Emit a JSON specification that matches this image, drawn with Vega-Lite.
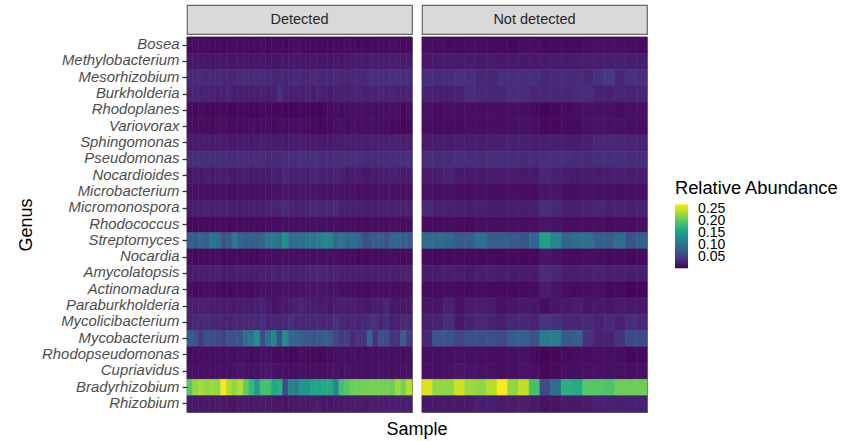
{"$schema":"https://vega.github.io/schema/vega-lite/v6.json","padding":{"left":16,"top":4,"right":0,"bottom":0},"config":{"font":"Liberation Sans"},
"datasets":{"cells":[
{"g":"Bosea","s":1,"v":0.008},{"g":"Bosea","s":2,"v":0.009},{"g":"Bosea","s":3,"v":0.008},{"g":"Bosea","s":4,"v":0.009},{"g":"Bosea","s":5,"v":0.007},{"g":"Bosea","s":6,"v":0.007},{"g":"Bosea","s":7,"v":0.007},{"g":"Bosea","s":8,"v":0.008},{"g":"Bosea","s":9,"v":0.009},{"g":"Bosea","s":10,"v":0.008},{"g":"Bosea","s":11,"v":0.008},{"g":"Bosea","s":12,"v":0.007},{"g":"Bosea","s":13,"v":0.008},{"g":"Bosea","s":14,"v":0.009},{"g":"Bosea","s":15,"v":0.007},{"g":"Bosea","s":16,"v":0.008},{"g":"Bosea","s":17,"v":0.007},{"g":"Bosea","s":18,"v":0.007},{"g":"Bosea","s":19,"v":0.008},{"g":"Bosea","s":20,"v":0.009},{"g":"Bosea","s":21,"v":0.008},{"g":"Bosea","s":22,"v":0.007},{"g":"Bosea","s":23,"v":0.007},{"g":"Bosea","s":24,"v":0.006},{"g":"Bosea","s":25,"v":0.007},{"g":"Bosea","s":26,"v":0.007},{"g":"Bosea","s":27,"v":0.008},{"g":"Bosea","s":28,"v":0.008},{"g":"Bosea","s":29,"v":0.009},{"g":"Bosea","s":30,"v":0.008},{"g":"Bosea","s":31,"v":0.007},{"g":"Bosea","s":32,"v":0.008},{"g":"Bosea","s":33,"v":0.007},{"g":"Bosea","s":34,"v":0.007},{"g":"Bosea","s":35,"v":0.008},{"g":"Bosea","s":36,"v":0.008},{"g":"Bosea","s":37,"v":0.009},{"g":"Bosea","s":38,"v":0.008},{"g":"Bosea","s":39,"v":0.008},{"g":"Bosea","s":40,"v":0.008},{"g":"Bosea","s":41,"v":0.01},{"g":"Bosea","s":42,"v":0.009},{"g":"Bosea","s":43,"v":0.008},{"g":"Bosea","s":44,"v":0.007},{"g":"Bosea","s":45,"v":0.009},{"g":"Bosea","s":46,"v":0.008},{"g":"Bosea","s":47,"v":0.008},{"g":"Bosea","s":48,"v":0.008},{"g":"Bosea","s":49,"v":0.007},{"g":"Bosea","s":50,"v":0.009},{"g":"Bosea","s":51,"v":0.009},{"g":"Bosea","s":52,"v":0.007},{"g":"Bosea","s":53,"v":0.007},{"g":"Bosea","s":54,"v":0.007},{"g":"Bosea","s":55,"v":0.007},{"g":"Bosea","s":56,"v":0.009},{"g":"Bosea","s":57,"v":0.01},{"g":"Bosea","s":58,"v":0.01},{"g":"Bosea","s":59,"v":0.01},{"g":"Bosea","s":60,"v":0.009},{"g":"Bosea","s":61,"v":0.008},
{"g":"Methylobacterium","s":1,"v":0.016},{"g":"Methylobacterium","s":2,"v":0.018},{"g":"Methylobacterium","s":3,"v":0.016},{"g":"Methylobacterium","s":4,"v":0.017},{"g":"Methylobacterium","s":5,"v":0.015},{"g":"Methylobacterium","s":6,"v":0.016},{"g":"Methylobacterium","s":7,"v":0.016},{"g":"Methylobacterium","s":8,"v":0.016},{"g":"Methylobacterium","s":9,"v":0.015},{"g":"Methylobacterium","s":10,"v":0.016},{"g":"Methylobacterium","s":11,"v":0.015},{"g":"Methylobacterium","s":12,"v":0.015},{"g":"Methylobacterium","s":13,"v":0.016},{"g":"Methylobacterium","s":14,"v":0.017},{"g":"Methylobacterium","s":15,"v":0.016},{"g":"Methylobacterium","s":16,"v":0.015},{"g":"Methylobacterium","s":17,"v":0.016},{"g":"Methylobacterium","s":18,"v":0.016},{"g":"Methylobacterium","s":19,"v":0.017},{"g":"Methylobacterium","s":20,"v":0.018},{"g":"Methylobacterium","s":21,"v":0.017},{"g":"Methylobacterium","s":22,"v":0.016},{"g":"Methylobacterium","s":23,"v":0.016},{"g":"Methylobacterium","s":24,"v":0.015},{"g":"Methylobacterium","s":25,"v":0.016},{"g":"Methylobacterium","s":26,"v":0.016},{"g":"Methylobacterium","s":27,"v":0.017},{"g":"Methylobacterium","s":28,"v":0.016},{"g":"Methylobacterium","s":29,"v":0.018},{"g":"Methylobacterium","s":30,"v":0.019},{"g":"Methylobacterium","s":31,"v":0.02},{"g":"Methylobacterium","s":32,"v":0.02},{"g":"Methylobacterium","s":33,"v":0.021},{"g":"Methylobacterium","s":34,"v":0.02},{"g":"Methylobacterium","s":35,"v":0.021},{"g":"Methylobacterium","s":36,"v":0.02},{"g":"Methylobacterium","s":37,"v":0.021},{"g":"Methylobacterium","s":38,"v":0.02},{"g":"Methylobacterium","s":39,"v":0.02},{"g":"Methylobacterium","s":40,"v":0.02},{"g":"Methylobacterium","s":41,"v":0.018},{"g":"Methylobacterium","s":42,"v":0.019},{"g":"Methylobacterium","s":43,"v":0.02},{"g":"Methylobacterium","s":44,"v":0.019},{"g":"Methylobacterium","s":45,"v":0.02},{"g":"Methylobacterium","s":46,"v":0.018},{"g":"Methylobacterium","s":47,"v":0.02},{"g":"Methylobacterium","s":48,"v":0.018},{"g":"Methylobacterium","s":49,"v":0.019},{"g":"Methylobacterium","s":50,"v":0.018},{"g":"Methylobacterium","s":51,"v":0.018},{"g":"Methylobacterium","s":52,"v":0.02},{"g":"Methylobacterium","s":53,"v":0.019},{"g":"Methylobacterium","s":54,"v":0.02},{"g":"Methylobacterium","s":55,"v":0.02},{"g":"Methylobacterium","s":56,"v":0.021},{"g":"Methylobacterium","s":57,"v":0.022},{"g":"Methylobacterium","s":58,"v":0.023},{"g":"Methylobacterium","s":59,"v":0.024},{"g":"Methylobacterium","s":60,"v":0.022},{"g":"Methylobacterium","s":61,"v":0.022},
{"g":"Mesorhizobium","s":1,"v":0.031},{"g":"Mesorhizobium","s":2,"v":0.033},{"g":"Mesorhizobium","s":3,"v":0.032},{"g":"Mesorhizobium","s":4,"v":0.03},{"g":"Mesorhizobium","s":5,"v":0.032},{"g":"Mesorhizobium","s":6,"v":0.031},{"g":"Mesorhizobium","s":7,"v":0.03},{"g":"Mesorhizobium","s":8,"v":0.029},{"g":"Mesorhizobium","s":9,"v":0.03},{"g":"Mesorhizobium","s":10,"v":0.033},{"g":"Mesorhizobium","s":11,"v":0.031},{"g":"Mesorhizobium","s":12,"v":0.034},{"g":"Mesorhizobium","s":13,"v":0.033},{"g":"Mesorhizobium","s":14,"v":0.034},{"g":"Mesorhizobium","s":15,"v":0.03},{"g":"Mesorhizobium","s":16,"v":0.028},{"g":"Mesorhizobium","s":17,"v":0.03},{"g":"Mesorhizobium","s":18,"v":0.029},{"g":"Mesorhizobium","s":19,"v":0.028},{"g":"Mesorhizobium","s":20,"v":0.031},{"g":"Mesorhizobium","s":21,"v":0.029},{"g":"Mesorhizobium","s":22,"v":0.03},{"g":"Mesorhizobium","s":23,"v":0.032},{"g":"Mesorhizobium","s":24,"v":0.031},{"g":"Mesorhizobium","s":25,"v":0.03},{"g":"Mesorhizobium","s":26,"v":0.028},{"g":"Mesorhizobium","s":27,"v":0.031},{"g":"Mesorhizobium","s":28,"v":0.029},{"g":"Mesorhizobium","s":29,"v":0.028},{"g":"Mesorhizobium","s":30,"v":0.03},{"g":"Mesorhizobium","s":31,"v":0.03},{"g":"Mesorhizobium","s":32,"v":0.03},{"g":"Mesorhizobium","s":33,"v":0.036},{"g":"Mesorhizobium","s":34,"v":0.036},{"g":"Mesorhizobium","s":35,"v":0.035},{"g":"Mesorhizobium","s":36,"v":0.036},{"g":"Mesorhizobium","s":37,"v":0.038},{"g":"Mesorhizobium","s":38,"v":0.037},{"g":"Mesorhizobium","s":39,"v":0.036},{"g":"Mesorhizobium","s":40,"v":0.036},{"g":"Mesorhizobium","s":41,"v":0.036},{"g":"Mesorhizobium","s":42,"v":0.034},{"g":"Mesorhizobium","s":43,"v":0.036},{"g":"Mesorhizobium","s":44,"v":0.038},{"g":"Mesorhizobium","s":45,"v":0.038},{"g":"Mesorhizobium","s":46,"v":0.03},{"g":"Mesorhizobium","s":47,"v":0.028},{"g":"Mesorhizobium","s":48,"v":0.036},{"g":"Mesorhizobium","s":49,"v":0.036},{"g":"Mesorhizobium","s":50,"v":0.035},{"g":"Mesorhizobium","s":51,"v":0.036},{"g":"Mesorhizobium","s":52,"v":0.03},{"g":"Mesorhizobium","s":53,"v":0.033},{"g":"Mesorhizobium","s":54,"v":0.033},{"g":"Mesorhizobium","s":55,"v":0.032},{"g":"Mesorhizobium","s":56,"v":0.03},{"g":"Mesorhizobium","s":57,"v":0.04},{"g":"Mesorhizobium","s":58,"v":0.046},{"g":"Mesorhizobium","s":59,"v":0.03},{"g":"Mesorhizobium","s":60,"v":0.04},{"g":"Mesorhizobium","s":61,"v":0.036},
{"g":"Burkholderia","s":1,"v":0.026},{"g":"Burkholderia","s":2,"v":0.028},{"g":"Burkholderia","s":3,"v":0.024},{"g":"Burkholderia","s":4,"v":0.027},{"g":"Burkholderia","s":5,"v":0.026},{"g":"Burkholderia","s":6,"v":0.022},{"g":"Burkholderia","s":7,"v":0.025},{"g":"Burkholderia","s":8,"v":0.03},{"g":"Burkholderia","s":9,"v":0.021},{"g":"Burkholderia","s":10,"v":0.023},{"g":"Burkholderia","s":11,"v":0.021},{"g":"Burkholderia","s":12,"v":0.024},{"g":"Burkholderia","s":13,"v":0.022},{"g":"Burkholderia","s":14,"v":0.025},{"g":"Burkholderia","s":15,"v":0.022},{"g":"Burkholderia","s":16,"v":0.022},{"g":"Burkholderia","s":17,"v":0.036},{"g":"Burkholderia","s":18,"v":0.025},{"g":"Burkholderia","s":19,"v":0.024},{"g":"Burkholderia","s":20,"v":0.025},{"g":"Burkholderia","s":21,"v":0.023},{"g":"Burkholderia","s":22,"v":0.027},{"g":"Burkholderia","s":23,"v":0.022},{"g":"Burkholderia","s":24,"v":0.028},{"g":"Burkholderia","s":25,"v":0.024},{"g":"Burkholderia","s":26,"v":0.02},{"g":"Burkholderia","s":27,"v":0.025},{"g":"Burkholderia","s":28,"v":0.025},{"g":"Burkholderia","s":29,"v":0.024},{"g":"Burkholderia","s":30,"v":0.025},{"g":"Burkholderia","s":31,"v":0.026},{"g":"Burkholderia","s":32,"v":0.024},{"g":"Burkholderia","s":33,"v":0.025},{"g":"Burkholderia","s":34,"v":0.026},{"g":"Burkholderia","s":35,"v":0.028},{"g":"Burkholderia","s":36,"v":0.025},{"g":"Burkholderia","s":37,"v":0.028},{"g":"Burkholderia","s":38,"v":0.024},{"g":"Burkholderia","s":39,"v":0.026},{"g":"Burkholderia","s":40,"v":0.027},{"g":"Burkholderia","s":41,"v":0.026},{"g":"Burkholderia","s":42,"v":0.024},{"g":"Burkholderia","s":43,"v":0.022},{"g":"Burkholderia","s":44,"v":0.025},{"g":"Burkholderia","s":45,"v":0.035},{"g":"Burkholderia","s":46,"v":0.03},{"g":"Burkholderia","s":47,"v":0.028},{"g":"Burkholderia","s":48,"v":0.03},{"g":"Burkholderia","s":49,"v":0.035},{"g":"Burkholderia","s":50,"v":0.034},{"g":"Burkholderia","s":51,"v":0.028},{"g":"Burkholderia","s":52,"v":0.03},{"g":"Burkholderia","s":53,"v":0.03},{"g":"Burkholderia","s":54,"v":0.03},{"g":"Burkholderia","s":55,"v":0.034},{"g":"Burkholderia","s":56,"v":0.034},{"g":"Burkholderia","s":57,"v":0.025},{"g":"Burkholderia","s":58,"v":0.024},{"g":"Burkholderia","s":59,"v":0.027},{"g":"Burkholderia","s":60,"v":0.026},{"g":"Burkholderia","s":61,"v":0.028},
{"g":"Rhodoplanes","s":1,"v":0.008},{"g":"Rhodoplanes","s":2,"v":0.007},{"g":"Rhodoplanes","s":3,"v":0.008},{"g":"Rhodoplanes","s":4,"v":0.006},{"g":"Rhodoplanes","s":5,"v":0.006},{"g":"Rhodoplanes","s":6,"v":0.007},{"g":"Rhodoplanes","s":7,"v":0.007},{"g":"Rhodoplanes","s":8,"v":0.006},{"g":"Rhodoplanes","s":9,"v":0.006},{"g":"Rhodoplanes","s":10,"v":0.007},{"g":"Rhodoplanes","s":11,"v":0.006},{"g":"Rhodoplanes","s":12,"v":0.005},{"g":"Rhodoplanes","s":13,"v":0.006},{"g":"Rhodoplanes","s":14,"v":0.007},{"g":"Rhodoplanes","s":15,"v":0.007},{"g":"Rhodoplanes","s":16,"v":0.006},{"g":"Rhodoplanes","s":17,"v":0.006},{"g":"Rhodoplanes","s":18,"v":0.005},{"g":"Rhodoplanes","s":19,"v":0.004},{"g":"Rhodoplanes","s":20,"v":0.005},{"g":"Rhodoplanes","s":21,"v":0.006},{"g":"Rhodoplanes","s":22,"v":0.006},{"g":"Rhodoplanes","s":23,"v":0.005},{"g":"Rhodoplanes","s":24,"v":0.004},{"g":"Rhodoplanes","s":25,"v":0.006},{"g":"Rhodoplanes","s":26,"v":0.008},{"g":"Rhodoplanes","s":27,"v":0.009},{"g":"Rhodoplanes","s":28,"v":0.008},{"g":"Rhodoplanes","s":29,"v":0.01},{"g":"Rhodoplanes","s":30,"v":0.009},{"g":"Rhodoplanes","s":31,"v":0.01},{"g":"Rhodoplanes","s":32,"v":0.011},{"g":"Rhodoplanes","s":33,"v":0.01},{"g":"Rhodoplanes","s":34,"v":0.009},{"g":"Rhodoplanes","s":35,"v":0.012},{"g":"Rhodoplanes","s":36,"v":0.011},{"g":"Rhodoplanes","s":37,"v":0.01},{"g":"Rhodoplanes","s":38,"v":0.01},{"g":"Rhodoplanes","s":39,"v":0.006},{"g":"Rhodoplanes","s":40,"v":0.011},{"g":"Rhodoplanes","s":41,"v":0.012},{"g":"Rhodoplanes","s":42,"v":0.008},{"g":"Rhodoplanes","s":43,"v":0.01},{"g":"Rhodoplanes","s":44,"v":0.011},{"g":"Rhodoplanes","s":45,"v":0.01},{"g":"Rhodoplanes","s":46,"v":0.009},{"g":"Rhodoplanes","s":47,"v":0.01},{"g":"Rhodoplanes","s":48,"v":0.011},{"g":"Rhodoplanes","s":49,"v":0.01},{"g":"Rhodoplanes","s":50,"v":0.01},{"g":"Rhodoplanes","s":51,"v":0.008},{"g":"Rhodoplanes","s":52,"v":0.004},{"g":"Rhodoplanes","s":53,"v":0.006},{"g":"Rhodoplanes","s":54,"v":0.008},{"g":"Rhodoplanes","s":55,"v":0.009},{"g":"Rhodoplanes","s":56,"v":0.012},{"g":"Rhodoplanes","s":57,"v":0.012},{"g":"Rhodoplanes","s":58,"v":0.012},{"g":"Rhodoplanes","s":59,"v":0.008},{"g":"Rhodoplanes","s":60,"v":0.011},{"g":"Rhodoplanes","s":61,"v":0.012},
{"g":"Variovorax","s":1,"v":0.01},{"g":"Variovorax","s":2,"v":0.009},{"g":"Variovorax","s":3,"v":0.011},{"g":"Variovorax","s":4,"v":0.009},{"g":"Variovorax","s":5,"v":0.007},{"g":"Variovorax","s":6,"v":0.009},{"g":"Variovorax","s":7,"v":0.01},{"g":"Variovorax","s":8,"v":0.007},{"g":"Variovorax","s":9,"v":0.008},{"g":"Variovorax","s":10,"v":0.008},{"g":"Variovorax","s":11,"v":0.009},{"g":"Variovorax","s":12,"v":0.01},{"g":"Variovorax","s":13,"v":0.008},{"g":"Variovorax","s":14,"v":0.012},{"g":"Variovorax","s":15,"v":0.01},{"g":"Variovorax","s":16,"v":0.007},{"g":"Variovorax","s":17,"v":0.009},{"g":"Variovorax","s":18,"v":0.009},{"g":"Variovorax","s":19,"v":0.01},{"g":"Variovorax","s":20,"v":0.01},{"g":"Variovorax","s":21,"v":0.011},{"g":"Variovorax","s":22,"v":0.009},{"g":"Variovorax","s":23,"v":0.007},{"g":"Variovorax","s":24,"v":0.006},{"g":"Variovorax","s":25,"v":0.007},{"g":"Variovorax","s":26,"v":0.008},{"g":"Variovorax","s":27,"v":0.01},{"g":"Variovorax","s":28,"v":0.014},{"g":"Variovorax","s":29,"v":0.008},{"g":"Variovorax","s":30,"v":0.012},{"g":"Variovorax","s":31,"v":0.009},{"g":"Variovorax","s":32,"v":0.01},{"g":"Variovorax","s":33,"v":0.012},{"g":"Variovorax","s":34,"v":0.009},{"g":"Variovorax","s":35,"v":0.01},{"g":"Variovorax","s":36,"v":0.009},{"g":"Variovorax","s":37,"v":0.008},{"g":"Variovorax","s":38,"v":0.007},{"g":"Variovorax","s":39,"v":0.006},{"g":"Variovorax","s":40,"v":0.006},{"g":"Variovorax","s":41,"v":0.009},{"g":"Variovorax","s":42,"v":0.008},{"g":"Variovorax","s":43,"v":0.008},{"g":"Variovorax","s":44,"v":0.008},{"g":"Variovorax","s":45,"v":0.01},{"g":"Variovorax","s":46,"v":0.009},{"g":"Variovorax","s":47,"v":0.01},{"g":"Variovorax","s":48,"v":0.01},{"g":"Variovorax","s":49,"v":0.011},{"g":"Variovorax","s":50,"v":0.012},{"g":"Variovorax","s":51,"v":0.011},{"g":"Variovorax","s":52,"v":0.006},{"g":"Variovorax","s":53,"v":0.006},{"g":"Variovorax","s":54,"v":0.008},{"g":"Variovorax","s":55,"v":0.008},{"g":"Variovorax","s":56,"v":0.012},{"g":"Variovorax","s":57,"v":0.014},{"g":"Variovorax","s":58,"v":0.012},{"g":"Variovorax","s":59,"v":0.012},{"g":"Variovorax","s":60,"v":0.01},{"g":"Variovorax","s":61,"v":0.01},
{"g":"Sphingomonas","s":1,"v":0.02},{"g":"Sphingomonas","s":2,"v":0.021},{"g":"Sphingomonas","s":3,"v":0.02},{"g":"Sphingomonas","s":4,"v":0.021},{"g":"Sphingomonas","s":5,"v":0.019},{"g":"Sphingomonas","s":6,"v":0.02},{"g":"Sphingomonas","s":7,"v":0.02},{"g":"Sphingomonas","s":8,"v":0.019},{"g":"Sphingomonas","s":9,"v":0.018},{"g":"Sphingomonas","s":10,"v":0.019},{"g":"Sphingomonas","s":11,"v":0.019},{"g":"Sphingomonas","s":12,"v":0.018},{"g":"Sphingomonas","s":13,"v":0.02},{"g":"Sphingomonas","s":14,"v":0.022},{"g":"Sphingomonas","s":15,"v":0.021},{"g":"Sphingomonas","s":16,"v":0.019},{"g":"Sphingomonas","s":17,"v":0.02},{"g":"Sphingomonas","s":18,"v":0.02},{"g":"Sphingomonas","s":19,"v":0.021},{"g":"Sphingomonas","s":20,"v":0.02},{"g":"Sphingomonas","s":21,"v":0.021},{"g":"Sphingomonas","s":22,"v":0.019},{"g":"Sphingomonas","s":23,"v":0.02},{"g":"Sphingomonas","s":24,"v":0.019},{"g":"Sphingomonas","s":25,"v":0.02},{"g":"Sphingomonas","s":26,"v":0.019},{"g":"Sphingomonas","s":27,"v":0.021},{"g":"Sphingomonas","s":28,"v":0.02},{"g":"Sphingomonas","s":29,"v":0.022},{"g":"Sphingomonas","s":30,"v":0.022},{"g":"Sphingomonas","s":31,"v":0.022},{"g":"Sphingomonas","s":32,"v":0.023},{"g":"Sphingomonas","s":33,"v":0.023},{"g":"Sphingomonas","s":34,"v":0.024},{"g":"Sphingomonas","s":35,"v":0.024},{"g":"Sphingomonas","s":36,"v":0.025},{"g":"Sphingomonas","s":37,"v":0.025},{"g":"Sphingomonas","s":38,"v":0.024},{"g":"Sphingomonas","s":39,"v":0.024},{"g":"Sphingomonas","s":40,"v":0.024},{"g":"Sphingomonas","s":41,"v":0.02},{"g":"Sphingomonas","s":42,"v":0.021},{"g":"Sphingomonas","s":43,"v":0.02},{"g":"Sphingomonas","s":44,"v":0.021},{"g":"Sphingomonas","s":45,"v":0.022},{"g":"Sphingomonas","s":46,"v":0.022},{"g":"Sphingomonas","s":47,"v":0.022},{"g":"Sphingomonas","s":48,"v":0.024},{"g":"Sphingomonas","s":49,"v":0.024},{"g":"Sphingomonas","s":50,"v":0.024},{"g":"Sphingomonas","s":51,"v":0.023},{"g":"Sphingomonas","s":52,"v":0.022},{"g":"Sphingomonas","s":53,"v":0.022},{"g":"Sphingomonas","s":54,"v":0.021},{"g":"Sphingomonas","s":55,"v":0.021},{"g":"Sphingomonas","s":56,"v":0.024},{"g":"Sphingomonas","s":57,"v":0.03},{"g":"Sphingomonas","s":58,"v":0.03},{"g":"Sphingomonas","s":59,"v":0.028},{"g":"Sphingomonas","s":60,"v":0.027},{"g":"Sphingomonas","s":61,"v":0.027},
{"g":"Pseudomonas","s":1,"v":0.034},{"g":"Pseudomonas","s":2,"v":0.036},{"g":"Pseudomonas","s":3,"v":0.036},{"g":"Pseudomonas","s":4,"v":0.034},{"g":"Pseudomonas","s":5,"v":0.035},{"g":"Pseudomonas","s":6,"v":0.034},{"g":"Pseudomonas","s":7,"v":0.034},{"g":"Pseudomonas","s":8,"v":0.033},{"g":"Pseudomonas","s":9,"v":0.033},{"g":"Pseudomonas","s":10,"v":0.034},{"g":"Pseudomonas","s":11,"v":0.033},{"g":"Pseudomonas","s":12,"v":0.033},{"g":"Pseudomonas","s":13,"v":0.034},{"g":"Pseudomonas","s":14,"v":0.033},{"g":"Pseudomonas","s":15,"v":0.03},{"g":"Pseudomonas","s":16,"v":0.03},{"g":"Pseudomonas","s":17,"v":0.032},{"g":"Pseudomonas","s":18,"v":0.034},{"g":"Pseudomonas","s":19,"v":0.034},{"g":"Pseudomonas","s":20,"v":0.036},{"g":"Pseudomonas","s":21,"v":0.037},{"g":"Pseudomonas","s":22,"v":0.034},{"g":"Pseudomonas","s":23,"v":0.036},{"g":"Pseudomonas","s":24,"v":0.035},{"g":"Pseudomonas","s":25,"v":0.034},{"g":"Pseudomonas","s":26,"v":0.032},{"g":"Pseudomonas","s":27,"v":0.034},{"g":"Pseudomonas","s":28,"v":0.034},{"g":"Pseudomonas","s":29,"v":0.035},{"g":"Pseudomonas","s":30,"v":0.036},{"g":"Pseudomonas","s":31,"v":0.035},{"g":"Pseudomonas","s":32,"v":0.032},{"g":"Pseudomonas","s":33,"v":0.033},{"g":"Pseudomonas","s":34,"v":0.033},{"g":"Pseudomonas","s":35,"v":0.034},{"g":"Pseudomonas","s":36,"v":0.036},{"g":"Pseudomonas","s":37,"v":0.035},{"g":"Pseudomonas","s":38,"v":0.035},{"g":"Pseudomonas","s":39,"v":0.037},{"g":"Pseudomonas","s":40,"v":0.037},{"g":"Pseudomonas","s":41,"v":0.034},{"g":"Pseudomonas","s":42,"v":0.034},{"g":"Pseudomonas","s":43,"v":0.034},{"g":"Pseudomonas","s":44,"v":0.036},{"g":"Pseudomonas","s":45,"v":0.036},{"g":"Pseudomonas","s":46,"v":0.034},{"g":"Pseudomonas","s":47,"v":0.036},{"g":"Pseudomonas","s":48,"v":0.036},{"g":"Pseudomonas","s":49,"v":0.034},{"g":"Pseudomonas","s":50,"v":0.033},{"g":"Pseudomonas","s":51,"v":0.033},{"g":"Pseudomonas","s":52,"v":0.035},{"g":"Pseudomonas","s":53,"v":0.036},{"g":"Pseudomonas","s":54,"v":0.036},{"g":"Pseudomonas","s":55,"v":0.033},{"g":"Pseudomonas","s":56,"v":0.033},{"g":"Pseudomonas","s":57,"v":0.035},{"g":"Pseudomonas","s":58,"v":0.036},{"g":"Pseudomonas","s":59,"v":0.036},{"g":"Pseudomonas","s":60,"v":0.034},{"g":"Pseudomonas","s":61,"v":0.034},
{"g":"Nocardioides","s":1,"v":0.016},{"g":"Nocardioides","s":2,"v":0.02},{"g":"Nocardioides","s":3,"v":0.018},{"g":"Nocardioides","s":4,"v":0.021},{"g":"Nocardioides","s":5,"v":0.018},{"g":"Nocardioides","s":6,"v":0.022},{"g":"Nocardioides","s":7,"v":0.02},{"g":"Nocardioides","s":8,"v":0.02},{"g":"Nocardioides","s":9,"v":0.018},{"g":"Nocardioides","s":10,"v":0.02},{"g":"Nocardioides","s":11,"v":0.021},{"g":"Nocardioides","s":12,"v":0.018},{"g":"Nocardioides","s":13,"v":0.018},{"g":"Nocardioides","s":14,"v":0.018},{"g":"Nocardioides","s":15,"v":0.02},{"g":"Nocardioides","s":16,"v":0.025},{"g":"Nocardioides","s":17,"v":0.02},{"g":"Nocardioides","s":18,"v":0.028},{"g":"Nocardioides","s":19,"v":0.024},{"g":"Nocardioides","s":20,"v":0.024},{"g":"Nocardioides","s":21,"v":0.022},{"g":"Nocardioides","s":22,"v":0.024},{"g":"Nocardioides","s":23,"v":0.027},{"g":"Nocardioides","s":24,"v":0.026},{"g":"Nocardioides","s":25,"v":0.025},{"g":"Nocardioides","s":26,"v":0.024},{"g":"Nocardioides","s":27,"v":0.027},{"g":"Nocardioides","s":28,"v":0.022},{"g":"Nocardioides","s":29,"v":0.018},{"g":"Nocardioides","s":30,"v":0.02},{"g":"Nocardioides","s":31,"v":0.02},{"g":"Nocardioides","s":32,"v":0.017},{"g":"Nocardioides","s":33,"v":0.017},{"g":"Nocardioides","s":34,"v":0.018},{"g":"Nocardioides","s":35,"v":0.02},{"g":"Nocardioides","s":36,"v":0.022},{"g":"Nocardioides","s":37,"v":0.022},{"g":"Nocardioides","s":38,"v":0.02},{"g":"Nocardioides","s":39,"v":0.02},{"g":"Nocardioides","s":40,"v":0.02},{"g":"Nocardioides","s":41,"v":0.02},{"g":"Nocardioides","s":42,"v":0.02},{"g":"Nocardioides","s":43,"v":0.026},{"g":"Nocardioides","s":44,"v":0.018},{"g":"Nocardioides","s":45,"v":0.018},{"g":"Nocardioides","s":46,"v":0.018},{"g":"Nocardioides","s":47,"v":0.02},{"g":"Nocardioides","s":48,"v":0.02},{"g":"Nocardioides","s":49,"v":0.02},{"g":"Nocardioides","s":50,"v":0.018},{"g":"Nocardioides","s":51,"v":0.018},{"g":"Nocardioides","s":52,"v":0.03},{"g":"Nocardioides","s":53,"v":0.024},{"g":"Nocardioides","s":54,"v":0.02},{"g":"Nocardioides","s":55,"v":0.019},{"g":"Nocardioides","s":56,"v":0.02},{"g":"Nocardioides","s":57,"v":0.02},{"g":"Nocardioides","s":58,"v":0.02},{"g":"Nocardioides","s":59,"v":0.021},{"g":"Nocardioides","s":60,"v":0.02},{"g":"Nocardioides","s":61,"v":0.021},
{"g":"Microbacterium","s":1,"v":0.012},{"g":"Microbacterium","s":2,"v":0.012},{"g":"Microbacterium","s":3,"v":0.013},{"g":"Microbacterium","s":4,"v":0.012},{"g":"Microbacterium","s":5,"v":0.011},{"g":"Microbacterium","s":6,"v":0.012},{"g":"Microbacterium","s":7,"v":0.012},{"g":"Microbacterium","s":8,"v":0.011},{"g":"Microbacterium","s":9,"v":0.011},{"g":"Microbacterium","s":10,"v":0.012},{"g":"Microbacterium","s":11,"v":0.012},{"g":"Microbacterium","s":12,"v":0.011},{"g":"Microbacterium","s":13,"v":0.012},{"g":"Microbacterium","s":14,"v":0.013},{"g":"Microbacterium","s":15,"v":0.013},{"g":"Microbacterium","s":16,"v":0.014},{"g":"Microbacterium","s":17,"v":0.014},{"g":"Microbacterium","s":18,"v":0.017},{"g":"Microbacterium","s":19,"v":0.016},{"g":"Microbacterium","s":20,"v":0.016},{"g":"Microbacterium","s":21,"v":0.015},{"g":"Microbacterium","s":22,"v":0.014},{"g":"Microbacterium","s":23,"v":0.015},{"g":"Microbacterium","s":24,"v":0.014},{"g":"Microbacterium","s":25,"v":0.014},{"g":"Microbacterium","s":26,"v":0.013},{"g":"Microbacterium","s":27,"v":0.015},{"g":"Microbacterium","s":28,"v":0.012},{"g":"Microbacterium","s":29,"v":0.012},{"g":"Microbacterium","s":30,"v":0.012},{"g":"Microbacterium","s":31,"v":0.011},{"g":"Microbacterium","s":32,"v":0.011},{"g":"Microbacterium","s":33,"v":0.011},{"g":"Microbacterium","s":34,"v":0.012},{"g":"Microbacterium","s":35,"v":0.012},{"g":"Microbacterium","s":36,"v":0.013},{"g":"Microbacterium","s":37,"v":0.013},{"g":"Microbacterium","s":38,"v":0.012},{"g":"Microbacterium","s":39,"v":0.012},{"g":"Microbacterium","s":40,"v":0.012},{"g":"Microbacterium","s":41,"v":0.012},{"g":"Microbacterium","s":42,"v":0.012},{"g":"Microbacterium","s":43,"v":0.012},{"g":"Microbacterium","s":44,"v":0.009},{"g":"Microbacterium","s":45,"v":0.009},{"g":"Microbacterium","s":46,"v":0.012},{"g":"Microbacterium","s":47,"v":0.01},{"g":"Microbacterium","s":48,"v":0.01},{"g":"Microbacterium","s":49,"v":0.01},{"g":"Microbacterium","s":50,"v":0.009},{"g":"Microbacterium","s":51,"v":0.009},{"g":"Microbacterium","s":52,"v":0.016},{"g":"Microbacterium","s":53,"v":0.016},{"g":"Microbacterium","s":54,"v":0.01},{"g":"Microbacterium","s":55,"v":0.012},{"g":"Microbacterium","s":56,"v":0.012},{"g":"Microbacterium","s":57,"v":0.012},{"g":"Microbacterium","s":58,"v":0.011},{"g":"Microbacterium","s":59,"v":0.011},{"g":"Microbacterium","s":60,"v":0.012},{"g":"Microbacterium","s":61,"v":0.011},
{"g":"Micromonospora","s":1,"v":0.02},{"g":"Micromonospora","s":2,"v":0.022},{"g":"Micromonospora","s":3,"v":0.022},{"g":"Micromonospora","s":4,"v":0.027},{"g":"Micromonospora","s":5,"v":0.024},{"g":"Micromonospora","s":6,"v":0.025},{"g":"Micromonospora","s":7,"v":0.024},{"g":"Micromonospora","s":8,"v":0.024},{"g":"Micromonospora","s":9,"v":0.022},{"g":"Micromonospora","s":10,"v":0.02},{"g":"Micromonospora","s":11,"v":0.022},{"g":"Micromonospora","s":12,"v":0.024},{"g":"Micromonospora","s":13,"v":0.021},{"g":"Micromonospora","s":14,"v":0.022},{"g":"Micromonospora","s":15,"v":0.027},{"g":"Micromonospora","s":16,"v":0.027},{"g":"Micromonospora","s":17,"v":0.028},{"g":"Micromonospora","s":18,"v":0.034},{"g":"Micromonospora","s":19,"v":0.026},{"g":"Micromonospora","s":20,"v":0.024},{"g":"Micromonospora","s":21,"v":0.026},{"g":"Micromonospora","s":22,"v":0.028},{"g":"Micromonospora","s":23,"v":0.032},{"g":"Micromonospora","s":24,"v":0.03},{"g":"Micromonospora","s":25,"v":0.03},{"g":"Micromonospora","s":26,"v":0.028},{"g":"Micromonospora","s":27,"v":0.032},{"g":"Micromonospora","s":28,"v":0.024},{"g":"Micromonospora","s":29,"v":0.024},{"g":"Micromonospora","s":30,"v":0.023},{"g":"Micromonospora","s":31,"v":0.022},{"g":"Micromonospora","s":32,"v":0.022},{"g":"Micromonospora","s":33,"v":0.022},{"g":"Micromonospora","s":34,"v":0.023},{"g":"Micromonospora","s":35,"v":0.023},{"g":"Micromonospora","s":36,"v":0.025},{"g":"Micromonospora","s":37,"v":0.024},{"g":"Micromonospora","s":38,"v":0.024},{"g":"Micromonospora","s":39,"v":0.025},{"g":"Micromonospora","s":40,"v":0.025},{"g":"Micromonospora","s":41,"v":0.032},{"g":"Micromonospora","s":42,"v":0.024},{"g":"Micromonospora","s":43,"v":0.024},{"g":"Micromonospora","s":44,"v":0.022},{"g":"Micromonospora","s":45,"v":0.022},{"g":"Micromonospora","s":46,"v":0.024},{"g":"Micromonospora","s":47,"v":0.02},{"g":"Micromonospora","s":48,"v":0.02},{"g":"Micromonospora","s":49,"v":0.022},{"g":"Micromonospora","s":50,"v":0.021},{"g":"Micromonospora","s":51,"v":0.022},{"g":"Micromonospora","s":52,"v":0.036},{"g":"Micromonospora","s":53,"v":0.03},{"g":"Micromonospora","s":54,"v":0.023},{"g":"Micromonospora","s":55,"v":0.023},{"g":"Micromonospora","s":56,"v":0.026},{"g":"Micromonospora","s":57,"v":0.028},{"g":"Micromonospora","s":58,"v":0.024},{"g":"Micromonospora","s":59,"v":0.026},{"g":"Micromonospora","s":60,"v":0.024},{"g":"Micromonospora","s":61,"v":0.025},
{"g":"Rhodococcus","s":1,"v":0.007},{"g":"Rhodococcus","s":2,"v":0.008},{"g":"Rhodococcus","s":3,"v":0.008},{"g":"Rhodococcus","s":4,"v":0.008},{"g":"Rhodococcus","s":5,"v":0.007},{"g":"Rhodococcus","s":6,"v":0.008},{"g":"Rhodococcus","s":7,"v":0.008},{"g":"Rhodococcus","s":8,"v":0.007},{"g":"Rhodococcus","s":9,"v":0.008},{"g":"Rhodococcus","s":10,"v":0.008},{"g":"Rhodococcus","s":11,"v":0.008},{"g":"Rhodococcus","s":12,"v":0.008},{"g":"Rhodococcus","s":13,"v":0.008},{"g":"Rhodococcus","s":14,"v":0.008},{"g":"Rhodococcus","s":15,"v":0.009},{"g":"Rhodococcus","s":16,"v":0.009},{"g":"Rhodococcus","s":17,"v":0.01},{"g":"Rhodococcus","s":18,"v":0.012},{"g":"Rhodococcus","s":19,"v":0.012},{"g":"Rhodococcus","s":20,"v":0.011},{"g":"Rhodococcus","s":21,"v":0.01},{"g":"Rhodococcus","s":22,"v":0.01},{"g":"Rhodococcus","s":23,"v":0.012},{"g":"Rhodococcus","s":24,"v":0.012},{"g":"Rhodococcus","s":25,"v":0.012},{"g":"Rhodococcus","s":26,"v":0.011},{"g":"Rhodococcus","s":27,"v":0.012},{"g":"Rhodococcus","s":28,"v":0.009},{"g":"Rhodococcus","s":29,"v":0.009},{"g":"Rhodococcus","s":30,"v":0.009},{"g":"Rhodococcus","s":31,"v":0.008},{"g":"Rhodococcus","s":32,"v":0.008},{"g":"Rhodococcus","s":33,"v":0.009},{"g":"Rhodococcus","s":34,"v":0.009},{"g":"Rhodococcus","s":35,"v":0.01},{"g":"Rhodococcus","s":36,"v":0.01},{"g":"Rhodococcus","s":37,"v":0.01},{"g":"Rhodococcus","s":38,"v":0.01},{"g":"Rhodococcus","s":39,"v":0.009},{"g":"Rhodococcus","s":40,"v":0.009},{"g":"Rhodococcus","s":41,"v":0.008},{"g":"Rhodococcus","s":42,"v":0.008},{"g":"Rhodococcus","s":43,"v":0.009},{"g":"Rhodococcus","s":44,"v":0.008},{"g":"Rhodococcus","s":45,"v":0.008},{"g":"Rhodococcus","s":46,"v":0.01},{"g":"Rhodococcus","s":47,"v":0.01},{"g":"Rhodococcus","s":48,"v":0.01},{"g":"Rhodococcus","s":49,"v":0.01},{"g":"Rhodococcus","s":50,"v":0.009},{"g":"Rhodococcus","s":51,"v":0.01},{"g":"Rhodococcus","s":52,"v":0.016},{"g":"Rhodococcus","s":53,"v":0.013},{"g":"Rhodococcus","s":54,"v":0.009},{"g":"Rhodococcus","s":55,"v":0.01},{"g":"Rhodococcus","s":56,"v":0.01},{"g":"Rhodococcus","s":57,"v":0.01},{"g":"Rhodococcus","s":58,"v":0.008},{"g":"Rhodococcus","s":59,"v":0.009},{"g":"Rhodococcus","s":60,"v":0.009},{"g":"Rhodococcus","s":61,"v":0.01},
{"g":"Streptomyces","s":1,"v":0.08},{"g":"Streptomyces","s":2,"v":0.075},{"g":"Streptomyces","s":3,"v":0.085},{"g":"Streptomyces","s":4,"v":0.08},{"g":"Streptomyces","s":5,"v":0.105},{"g":"Streptomyces","s":6,"v":0.1},{"g":"Streptomyces","s":7,"v":0.07},{"g":"Streptomyces","s":8,"v":0.075},{"g":"Streptomyces","s":9,"v":0.11},{"g":"Streptomyces","s":10,"v":0.085},{"g":"Streptomyces","s":11,"v":0.075},{"g":"Streptomyces","s":12,"v":0.08},{"g":"Streptomyces","s":13,"v":0.08},{"g":"Streptomyces","s":14,"v":0.085},{"g":"Streptomyces","s":15,"v":0.105},{"g":"Streptomyces","s":16,"v":0.11},{"g":"Streptomyces","s":17,"v":0.1},{"g":"Streptomyces","s":18,"v":0.135},{"g":"Streptomyces","s":19,"v":0.095},{"g":"Streptomyces","s":20,"v":0.095},{"g":"Streptomyces","s":21,"v":0.095},{"g":"Streptomyces","s":22,"v":0.105},{"g":"Streptomyces","s":23,"v":0.105},{"g":"Streptomyces","s":24,"v":0.115},{"g":"Streptomyces","s":25,"v":0.125},{"g":"Streptomyces","s":26,"v":0.12},{"g":"Streptomyces","s":27,"v":0.09},{"g":"Streptomyces","s":28,"v":0.105},{"g":"Streptomyces","s":29,"v":0.09},{"g":"Streptomyces","s":30,"v":0.095},{"g":"Streptomyces","s":31,"v":0.09},{"g":"Streptomyces","s":32,"v":0.065},{"g":"Streptomyces","s":33,"v":0.07},{"g":"Streptomyces","s":34,"v":0.08},{"g":"Streptomyces","s":35,"v":0.08},{"g":"Streptomyces","s":36,"v":0.07},{"g":"Streptomyces","s":37,"v":0.085},{"g":"Streptomyces","s":38,"v":0.085},{"g":"Streptomyces","s":39,"v":0.08},{"g":"Streptomyces","s":40,"v":0.08},{"g":"Streptomyces","s":41,"v":0.095},{"g":"Streptomyces","s":42,"v":0.095},{"g":"Streptomyces","s":43,"v":0.09},{"g":"Streptomyces","s":44,"v":0.075},{"g":"Streptomyces","s":45,"v":0.08},{"g":"Streptomyces","s":46,"v":0.1},{"g":"Streptomyces","s":47,"v":0.08},{"g":"Streptomyces","s":48,"v":0.08},{"g":"Streptomyces","s":49,"v":0.075},{"g":"Streptomyces","s":50,"v":0.07},{"g":"Streptomyces","s":51,"v":0.09},{"g":"Streptomyces","s":52,"v":0.155},{"g":"Streptomyces","s":53,"v":0.125},{"g":"Streptomyces","s":54,"v":0.09},{"g":"Streptomyces","s":55,"v":0.095},{"g":"Streptomyces","s":56,"v":0.1},{"g":"Streptomyces","s":57,"v":0.08},{"g":"Streptomyces","s":58,"v":0.08},{"g":"Streptomyces","s":59,"v":0.095},{"g":"Streptomyces","s":60,"v":0.07},{"g":"Streptomyces","s":61,"v":0.08},
{"g":"Nocardia","s":1,"v":0.008},{"g":"Nocardia","s":2,"v":0.007},{"g":"Nocardia","s":3,"v":0.007},{"g":"Nocardia","s":4,"v":0.008},{"g":"Nocardia","s":5,"v":0.009},{"g":"Nocardia","s":6,"v":0.009},{"g":"Nocardia","s":7,"v":0.007},{"g":"Nocardia","s":8,"v":0.007},{"g":"Nocardia","s":9,"v":0.008},{"g":"Nocardia","s":10,"v":0.008},{"g":"Nocardia","s":11,"v":0.007},{"g":"Nocardia","s":12,"v":0.007},{"g":"Nocardia","s":13,"v":0.007},{"g":"Nocardia","s":14,"v":0.008},{"g":"Nocardia","s":15,"v":0.01},{"g":"Nocardia","s":16,"v":0.011},{"g":"Nocardia","s":17,"v":0.011},{"g":"Nocardia","s":18,"v":0.011},{"g":"Nocardia","s":19,"v":0.012},{"g":"Nocardia","s":20,"v":0.01},{"g":"Nocardia","s":21,"v":0.01},{"g":"Nocardia","s":22,"v":0.011},{"g":"Nocardia","s":23,"v":0.011},{"g":"Nocardia","s":24,"v":0.012},{"g":"Nocardia","s":25,"v":0.012},{"g":"Nocardia","s":26,"v":0.011},{"g":"Nocardia","s":27,"v":0.011},{"g":"Nocardia","s":28,"v":0.008},{"g":"Nocardia","s":29,"v":0.008},{"g":"Nocardia","s":30,"v":0.008},{"g":"Nocardia","s":31,"v":0.007},{"g":"Nocardia","s":32,"v":0.007},{"g":"Nocardia","s":33,"v":0.008},{"g":"Nocardia","s":34,"v":0.008},{"g":"Nocardia","s":35,"v":0.008},{"g":"Nocardia","s":36,"v":0.009},{"g":"Nocardia","s":37,"v":0.009},{"g":"Nocardia","s":38,"v":0.008},{"g":"Nocardia","s":39,"v":0.008},{"g":"Nocardia","s":40,"v":0.008},{"g":"Nocardia","s":41,"v":0.008},{"g":"Nocardia","s":42,"v":0.007},{"g":"Nocardia","s":43,"v":0.007},{"g":"Nocardia","s":44,"v":0.007},{"g":"Nocardia","s":45,"v":0.007},{"g":"Nocardia","s":46,"v":0.007},{"g":"Nocardia","s":47,"v":0.007},{"g":"Nocardia","s":48,"v":0.006},{"g":"Nocardia","s":49,"v":0.007},{"g":"Nocardia","s":50,"v":0.006},{"g":"Nocardia","s":51,"v":0.007},{"g":"Nocardia","s":52,"v":0.015},{"g":"Nocardia","s":53,"v":0.012},{"g":"Nocardia","s":54,"v":0.008},{"g":"Nocardia","s":55,"v":0.008},{"g":"Nocardia","s":56,"v":0.009},{"g":"Nocardia","s":57,"v":0.009},{"g":"Nocardia","s":58,"v":0.008},{"g":"Nocardia","s":59,"v":0.008},{"g":"Nocardia","s":60,"v":0.007},{"g":"Nocardia","s":61,"v":0.008},
{"g":"Amycolatopsis","s":1,"v":0.02},{"g":"Amycolatopsis","s":2,"v":0.021},{"g":"Amycolatopsis","s":3,"v":0.022},{"g":"Amycolatopsis","s":4,"v":0.021},{"g":"Amycolatopsis","s":5,"v":0.022},{"g":"Amycolatopsis","s":6,"v":0.022},{"g":"Amycolatopsis","s":7,"v":0.019},{"g":"Amycolatopsis","s":8,"v":0.021},{"g":"Amycolatopsis","s":9,"v":0.023},{"g":"Amycolatopsis","s":10,"v":0.022},{"g":"Amycolatopsis","s":11,"v":0.021},{"g":"Amycolatopsis","s":12,"v":0.02},{"g":"Amycolatopsis","s":13,"v":0.021},{"g":"Amycolatopsis","s":14,"v":0.022},{"g":"Amycolatopsis","s":15,"v":0.024},{"g":"Amycolatopsis","s":16,"v":0.026},{"g":"Amycolatopsis","s":17,"v":0.023},{"g":"Amycolatopsis","s":18,"v":0.029},{"g":"Amycolatopsis","s":19,"v":0.024},{"g":"Amycolatopsis","s":20,"v":0.023},{"g":"Amycolatopsis","s":21,"v":0.024},{"g":"Amycolatopsis","s":22,"v":0.026},{"g":"Amycolatopsis","s":23,"v":0.028},{"g":"Amycolatopsis","s":24,"v":0.03},{"g":"Amycolatopsis","s":25,"v":0.028},{"g":"Amycolatopsis","s":26,"v":0.025},{"g":"Amycolatopsis","s":27,"v":0.028},{"g":"Amycolatopsis","s":28,"v":0.023},{"g":"Amycolatopsis","s":29,"v":0.023},{"g":"Amycolatopsis","s":30,"v":0.022},{"g":"Amycolatopsis","s":31,"v":0.022},{"g":"Amycolatopsis","s":32,"v":0.021},{"g":"Amycolatopsis","s":33,"v":0.022},{"g":"Amycolatopsis","s":34,"v":0.022},{"g":"Amycolatopsis","s":35,"v":0.023},{"g":"Amycolatopsis","s":36,"v":0.024},{"g":"Amycolatopsis","s":37,"v":0.024},{"g":"Amycolatopsis","s":38,"v":0.023},{"g":"Amycolatopsis","s":39,"v":0.026},{"g":"Amycolatopsis","s":40,"v":0.026},{"g":"Amycolatopsis","s":41,"v":0.02},{"g":"Amycolatopsis","s":42,"v":0.02},{"g":"Amycolatopsis","s":43,"v":0.022},{"g":"Amycolatopsis","s":44,"v":0.021},{"g":"Amycolatopsis","s":45,"v":0.018},{"g":"Amycolatopsis","s":46,"v":0.023},{"g":"Amycolatopsis","s":47,"v":0.023},{"g":"Amycolatopsis","s":48,"v":0.021},{"g":"Amycolatopsis","s":49,"v":0.02},{"g":"Amycolatopsis","s":50,"v":0.02},{"g":"Amycolatopsis","s":51,"v":0.02},{"g":"Amycolatopsis","s":52,"v":0.034},{"g":"Amycolatopsis","s":53,"v":0.03},{"g":"Amycolatopsis","s":54,"v":0.021},{"g":"Amycolatopsis","s":55,"v":0.022},{"g":"Amycolatopsis","s":56,"v":0.023},{"g":"Amycolatopsis","s":57,"v":0.025},{"g":"Amycolatopsis","s":58,"v":0.021},{"g":"Amycolatopsis","s":59,"v":0.022},{"g":"Amycolatopsis","s":60,"v":0.021},{"g":"Amycolatopsis","s":61,"v":0.022},
{"g":"Actinomadura","s":1,"v":0.01},{"g":"Actinomadura","s":2,"v":0.008},{"g":"Actinomadura","s":3,"v":0.008},{"g":"Actinomadura","s":4,"v":0.01},{"g":"Actinomadura","s":5,"v":0.01},{"g":"Actinomadura","s":6,"v":0.008},{"g":"Actinomadura","s":7,"v":0.006},{"g":"Actinomadura","s":8,"v":0.006},{"g":"Actinomadura","s":9,"v":0.008},{"g":"Actinomadura","s":10,"v":0.008},{"g":"Actinomadura","s":11,"v":0.009},{"g":"Actinomadura","s":12,"v":0.007},{"g":"Actinomadura","s":13,"v":0.01},{"g":"Actinomadura","s":14,"v":0.012},{"g":"Actinomadura","s":15,"v":0.012},{"g":"Actinomadura","s":16,"v":0.012},{"g":"Actinomadura","s":17,"v":0.012},{"g":"Actinomadura","s":18,"v":0.015},{"g":"Actinomadura","s":19,"v":0.013},{"g":"Actinomadura","s":20,"v":0.014},{"g":"Actinomadura","s":21,"v":0.014},{"g":"Actinomadura","s":22,"v":0.015},{"g":"Actinomadura","s":23,"v":0.016},{"g":"Actinomadura","s":24,"v":0.017},{"g":"Actinomadura","s":25,"v":0.015},{"g":"Actinomadura","s":26,"v":0.013},{"g":"Actinomadura","s":27,"v":0.015},{"g":"Actinomadura","s":28,"v":0.01},{"g":"Actinomadura","s":29,"v":0.009},{"g":"Actinomadura","s":30,"v":0.009},{"g":"Actinomadura","s":31,"v":0.008},{"g":"Actinomadura","s":32,"v":0.008},{"g":"Actinomadura","s":33,"v":0.008},{"g":"Actinomadura","s":34,"v":0.009},{"g":"Actinomadura","s":35,"v":0.01},{"g":"Actinomadura","s":36,"v":0.01},{"g":"Actinomadura","s":37,"v":0.01},{"g":"Actinomadura","s":38,"v":0.009},{"g":"Actinomadura","s":39,"v":0.01},{"g":"Actinomadura","s":40,"v":0.01},{"g":"Actinomadura","s":41,"v":0.008},{"g":"Actinomadura","s":42,"v":0.008},{"g":"Actinomadura","s":43,"v":0.009},{"g":"Actinomadura","s":44,"v":0.008},{"g":"Actinomadura","s":45,"v":0.008},{"g":"Actinomadura","s":46,"v":0.009},{"g":"Actinomadura","s":47,"v":0.007},{"g":"Actinomadura","s":48,"v":0.007},{"g":"Actinomadura","s":49,"v":0.007},{"g":"Actinomadura","s":50,"v":0.007},{"g":"Actinomadura","s":51,"v":0.009},{"g":"Actinomadura","s":52,"v":0.02},{"g":"Actinomadura","s":53,"v":0.014},{"g":"Actinomadura","s":54,"v":0.009},{"g":"Actinomadura","s":55,"v":0.008},{"g":"Actinomadura","s":56,"v":0.009},{"g":"Actinomadura","s":57,"v":0.01},{"g":"Actinomadura","s":58,"v":0.006},{"g":"Actinomadura","s":59,"v":0.007},{"g":"Actinomadura","s":60,"v":0.004},{"g":"Actinomadura","s":61,"v":0.006},
{"g":"Paraburkholderia","s":1,"v":0.022},{"g":"Paraburkholderia","s":2,"v":0.023},{"g":"Paraburkholderia","s":3,"v":0.024},{"g":"Paraburkholderia","s":4,"v":0.024},{"g":"Paraburkholderia","s":5,"v":0.021},{"g":"Paraburkholderia","s":6,"v":0.02},{"g":"Paraburkholderia","s":7,"v":0.02},{"g":"Paraburkholderia","s":8,"v":0.021},{"g":"Paraburkholderia","s":9,"v":0.019},{"g":"Paraburkholderia","s":10,"v":0.02},{"g":"Paraburkholderia","s":11,"v":0.02},{"g":"Paraburkholderia","s":12,"v":0.02},{"g":"Paraburkholderia","s":13,"v":0.024},{"g":"Paraburkholderia","s":14,"v":0.026},{"g":"Paraburkholderia","s":15,"v":0.018},{"g":"Paraburkholderia","s":16,"v":0.014},{"g":"Paraburkholderia","s":17,"v":0.017},{"g":"Paraburkholderia","s":18,"v":0.018},{"g":"Paraburkholderia","s":19,"v":0.02},{"g":"Paraburkholderia","s":20,"v":0.024},{"g":"Paraburkholderia","s":21,"v":0.028},{"g":"Paraburkholderia","s":22,"v":0.022},{"g":"Paraburkholderia","s":23,"v":0.021},{"g":"Paraburkholderia","s":24,"v":0.019},{"g":"Paraburkholderia","s":25,"v":0.021},{"g":"Paraburkholderia","s":26,"v":0.017},{"g":"Paraburkholderia","s":27,"v":0.021},{"g":"Paraburkholderia","s":28,"v":0.023},{"g":"Paraburkholderia","s":29,"v":0.021},{"g":"Paraburkholderia","s":30,"v":0.023},{"g":"Paraburkholderia","s":31,"v":0.02},{"g":"Paraburkholderia","s":32,"v":0.019},{"g":"Paraburkholderia","s":33,"v":0.018},{"g":"Paraburkholderia","s":34,"v":0.022},{"g":"Paraburkholderia","s":35,"v":0.02},{"g":"Paraburkholderia","s":36,"v":0.03},{"g":"Paraburkholderia","s":37,"v":0.018},{"g":"Paraburkholderia","s":38,"v":0.017},{"g":"Paraburkholderia","s":39,"v":0.018},{"g":"Paraburkholderia","s":40,"v":0.018},{"g":"Paraburkholderia","s":41,"v":0.016},{"g":"Paraburkholderia","s":42,"v":0.015},{"g":"Paraburkholderia","s":43,"v":0.024},{"g":"Paraburkholderia","s":44,"v":0.013},{"g":"Paraburkholderia","s":45,"v":0.02},{"g":"Paraburkholderia","s":46,"v":0.023},{"g":"Paraburkholderia","s":47,"v":0.02},{"g":"Paraburkholderia","s":48,"v":0.013},{"g":"Paraburkholderia","s":49,"v":0.016},{"g":"Paraburkholderia","s":50,"v":0.018},{"g":"Paraburkholderia","s":51,"v":0.017},{"g":"Paraburkholderia","s":52,"v":0.011},{"g":"Paraburkholderia","s":53,"v":0.016},{"g":"Paraburkholderia","s":54,"v":0.018},{"g":"Paraburkholderia","s":55,"v":0.022},{"g":"Paraburkholderia","s":56,"v":0.015},{"g":"Paraburkholderia","s":57,"v":0.018},{"g":"Paraburkholderia","s":58,"v":0.016},{"g":"Paraburkholderia","s":59,"v":0.019},{"g":"Paraburkholderia","s":60,"v":0.018},{"g":"Paraburkholderia","s":61,"v":0.017},
{"g":"Mycolicibacterium","s":1,"v":0.026},{"g":"Mycolicibacterium","s":2,"v":0.032},{"g":"Mycolicibacterium","s":3,"v":0.03},{"g":"Mycolicibacterium","s":4,"v":0.034},{"g":"Mycolicibacterium","s":5,"v":0.03},{"g":"Mycolicibacterium","s":6,"v":0.028},{"g":"Mycolicibacterium","s":7,"v":0.026},{"g":"Mycolicibacterium","s":8,"v":0.026},{"g":"Mycolicibacterium","s":9,"v":0.03},{"g":"Mycolicibacterium","s":10,"v":0.028},{"g":"Mycolicibacterium","s":11,"v":0.03},{"g":"Mycolicibacterium","s":12,"v":0.032},{"g":"Mycolicibacterium","s":13,"v":0.03},{"g":"Mycolicibacterium","s":14,"v":0.036},{"g":"Mycolicibacterium","s":15,"v":0.026},{"g":"Mycolicibacterium","s":16,"v":0.03},{"g":"Mycolicibacterium","s":17,"v":0.028},{"g":"Mycolicibacterium","s":18,"v":0.03},{"g":"Mycolicibacterium","s":19,"v":0.036},{"g":"Mycolicibacterium","s":20,"v":0.03},{"g":"Mycolicibacterium","s":21,"v":0.03},{"g":"Mycolicibacterium","s":22,"v":0.03},{"g":"Mycolicibacterium","s":23,"v":0.03},{"g":"Mycolicibacterium","s":24,"v":0.032},{"g":"Mycolicibacterium","s":25,"v":0.028},{"g":"Mycolicibacterium","s":26,"v":0.03},{"g":"Mycolicibacterium","s":27,"v":0.038},{"g":"Mycolicibacterium","s":28,"v":0.03},{"g":"Mycolicibacterium","s":29,"v":0.026},{"g":"Mycolicibacterium","s":30,"v":0.028},{"g":"Mycolicibacterium","s":31,"v":0.026},{"g":"Mycolicibacterium","s":32,"v":0.028},{"g":"Mycolicibacterium","s":33,"v":0.034},{"g":"Mycolicibacterium","s":34,"v":0.038},{"g":"Mycolicibacterium","s":35,"v":0.026},{"g":"Mycolicibacterium","s":36,"v":0.036},{"g":"Mycolicibacterium","s":37,"v":0.022},{"g":"Mycolicibacterium","s":38,"v":0.024},{"g":"Mycolicibacterium","s":39,"v":0.032},{"g":"Mycolicibacterium","s":40,"v":0.03},{"g":"Mycolicibacterium","s":41,"v":0.024},{"g":"Mycolicibacterium","s":42,"v":0.026},{"g":"Mycolicibacterium","s":43,"v":0.036},{"g":"Mycolicibacterium","s":44,"v":0.018},{"g":"Mycolicibacterium","s":45,"v":0.024},{"g":"Mycolicibacterium","s":46,"v":0.03},{"g":"Mycolicibacterium","s":47,"v":0.026},{"g":"Mycolicibacterium","s":48,"v":0.022},{"g":"Mycolicibacterium","s":49,"v":0.028},{"g":"Mycolicibacterium","s":50,"v":0.03},{"g":"Mycolicibacterium","s":51,"v":0.026},{"g":"Mycolicibacterium","s":52,"v":0.04},{"g":"Mycolicibacterium","s":53,"v":0.036},{"g":"Mycolicibacterium","s":54,"v":0.028},{"g":"Mycolicibacterium","s":55,"v":0.028},{"g":"Mycolicibacterium","s":56,"v":0.032},{"g":"Mycolicibacterium","s":57,"v":0.025},{"g":"Mycolicibacterium","s":58,"v":0.032},{"g":"Mycolicibacterium","s":59,"v":0.025},{"g":"Mycolicibacterium","s":60,"v":0.036},{"g":"Mycolicibacterium","s":61,"v":0.03},
{"g":"Mycobacterium","s":1,"v":0.075},{"g":"Mycobacterium","s":2,"v":0.07},{"g":"Mycobacterium","s":3,"v":0.045},{"g":"Mycobacterium","s":4,"v":0.065},{"g":"Mycobacterium","s":5,"v":0.06},{"g":"Mycobacterium","s":6,"v":0.06},{"g":"Mycobacterium","s":7,"v":0.05},{"g":"Mycobacterium","s":8,"v":0.07},{"g":"Mycobacterium","s":9,"v":0.07},{"g":"Mycobacterium","s":10,"v":0.07},{"g":"Mycobacterium","s":11,"v":0.1},{"g":"Mycobacterium","s":12,"v":0.105},{"g":"Mycobacterium","s":13,"v":0.135},{"g":"Mycobacterium","s":14,"v":0.06},{"g":"Mycobacterium","s":15,"v":0.1},{"g":"Mycobacterium","s":16,"v":0.125},{"g":"Mycobacterium","s":17,"v":0.07},{"g":"Mycobacterium","s":18,"v":0.135},{"g":"Mycobacterium","s":19,"v":0.09},{"g":"Mycobacterium","s":20,"v":0.085},{"g":"Mycobacterium","s":21,"v":0.08},{"g":"Mycobacterium","s":22,"v":0.075},{"g":"Mycobacterium","s":23,"v":0.07},{"g":"Mycobacterium","s":24,"v":0.075},{"g":"Mycobacterium","s":25,"v":0.08},{"g":"Mycobacterium","s":26,"v":0.075},{"g":"Mycobacterium","s":27,"v":0.055},{"g":"Mycobacterium","s":28,"v":0.045},{"g":"Mycobacterium","s":29,"v":0.05},{"g":"Mycobacterium","s":30,"v":0.03},{"g":"Mycobacterium","s":31,"v":0.04},{"g":"Mycobacterium","s":32,"v":0.04},{"g":"Mycobacterium","s":33,"v":0.085},{"g":"Mycobacterium","s":34,"v":0.04},{"g":"Mycobacterium","s":35,"v":0.065},{"g":"Mycobacterium","s":36,"v":0.06},{"g":"Mycobacterium","s":37,"v":0.04},{"g":"Mycobacterium","s":38,"v":0.04},{"g":"Mycobacterium","s":39,"v":0.08},{"g":"Mycobacterium","s":40,"v":0.045},{"g":"Mycobacterium","s":41,"v":0.03},{"g":"Mycobacterium","s":42,"v":0.07},{"g":"Mycobacterium","s":43,"v":0.07},{"g":"Mycobacterium","s":44,"v":0.055},{"g":"Mycobacterium","s":45,"v":0.065},{"g":"Mycobacterium","s":46,"v":0.065},{"g":"Mycobacterium","s":47,"v":0.065},{"g":"Mycobacterium","s":48,"v":0.06},{"g":"Mycobacterium","s":49,"v":0.08},{"g":"Mycobacterium","s":50,"v":0.08},{"g":"Mycobacterium","s":51,"v":0.07},{"g":"Mycobacterium","s":52,"v":0.11},{"g":"Mycobacterium","s":53,"v":0.115},{"g":"Mycobacterium","s":54,"v":0.075},{"g":"Mycobacterium","s":55,"v":0.08},{"g":"Mycobacterium","s":56,"v":0.04},{"g":"Mycobacterium","s":57,"v":0.025},{"g":"Mycobacterium","s":58,"v":0.025},{"g":"Mycobacterium","s":59,"v":0.04},{"g":"Mycobacterium","s":60,"v":0.06},{"g":"Mycobacterium","s":61,"v":0.06},
{"g":"Rhodopseudomonas","s":1,"v":0.008},{"g":"Rhodopseudomonas","s":2,"v":0.009},{"g":"Rhodopseudomonas","s":3,"v":0.009},{"g":"Rhodopseudomonas","s":4,"v":0.009},{"g":"Rhodopseudomonas","s":5,"v":0.01},{"g":"Rhodopseudomonas","s":6,"v":0.01},{"g":"Rhodopseudomonas","s":7,"v":0.009},{"g":"Rhodopseudomonas","s":8,"v":0.01},{"g":"Rhodopseudomonas","s":9,"v":0.01},{"g":"Rhodopseudomonas","s":10,"v":0.012},{"g":"Rhodopseudomonas","s":11,"v":0.01},{"g":"Rhodopseudomonas","s":12,"v":0.008},{"g":"Rhodopseudomonas","s":13,"v":0.009},{"g":"Rhodopseudomonas","s":14,"v":0.012},{"g":"Rhodopseudomonas","s":15,"v":0.012},{"g":"Rhodopseudomonas","s":16,"v":0.008},{"g":"Rhodopseudomonas","s":17,"v":0.007},{"g":"Rhodopseudomonas","s":18,"v":0.009},{"g":"Rhodopseudomonas","s":19,"v":0.005},{"g":"Rhodopseudomonas","s":20,"v":0.007},{"g":"Rhodopseudomonas","s":21,"v":0.01},{"g":"Rhodopseudomonas","s":22,"v":0.008},{"g":"Rhodopseudomonas","s":23,"v":0.007},{"g":"Rhodopseudomonas","s":24,"v":0.006},{"g":"Rhodopseudomonas","s":25,"v":0.007},{"g":"Rhodopseudomonas","s":26,"v":0.009},{"g":"Rhodopseudomonas","s":27,"v":0.01},{"g":"Rhodopseudomonas","s":28,"v":0.01},{"g":"Rhodopseudomonas","s":29,"v":0.011},{"g":"Rhodopseudomonas","s":30,"v":0.012},{"g":"Rhodopseudomonas","s":31,"v":0.011},{"g":"Rhodopseudomonas","s":32,"v":0.01},{"g":"Rhodopseudomonas","s":33,"v":0.01},{"g":"Rhodopseudomonas","s":34,"v":0.01},{"g":"Rhodopseudomonas","s":35,"v":0.012},{"g":"Rhodopseudomonas","s":36,"v":0.012},{"g":"Rhodopseudomonas","s":37,"v":0.01},{"g":"Rhodopseudomonas","s":38,"v":0.01},{"g":"Rhodopseudomonas","s":39,"v":0.01},{"g":"Rhodopseudomonas","s":40,"v":0.011},{"g":"Rhodopseudomonas","s":41,"v":0.01},{"g":"Rhodopseudomonas","s":42,"v":0.01},{"g":"Rhodopseudomonas","s":43,"v":0.01},{"g":"Rhodopseudomonas","s":44,"v":0.012},{"g":"Rhodopseudomonas","s":45,"v":0.012},{"g":"Rhodopseudomonas","s":46,"v":0.01},{"g":"Rhodopseudomonas","s":47,"v":0.009},{"g":"Rhodopseudomonas","s":48,"v":0.01},{"g":"Rhodopseudomonas","s":49,"v":0.01},{"g":"Rhodopseudomonas","s":50,"v":0.012},{"g":"Rhodopseudomonas","s":51,"v":0.008},{"g":"Rhodopseudomonas","s":52,"v":0.004},{"g":"Rhodopseudomonas","s":53,"v":0.006},{"g":"Rhodopseudomonas","s":54,"v":0.008},{"g":"Rhodopseudomonas","s":55,"v":0.009},{"g":"Rhodopseudomonas","s":56,"v":0.009},{"g":"Rhodopseudomonas","s":57,"v":0.01},{"g":"Rhodopseudomonas","s":58,"v":0.011},{"g":"Rhodopseudomonas","s":59,"v":0.01},{"g":"Rhodopseudomonas","s":60,"v":0.007},{"g":"Rhodopseudomonas","s":61,"v":0.008},
{"g":"Cupriavidus","s":1,"v":0.012},{"g":"Cupriavidus","s":2,"v":0.012},{"g":"Cupriavidus","s":3,"v":0.011},{"g":"Cupriavidus","s":4,"v":0.011},{"g":"Cupriavidus","s":5,"v":0.012},{"g":"Cupriavidus","s":6,"v":0.013},{"g":"Cupriavidus","s":7,"v":0.012},{"g":"Cupriavidus","s":8,"v":0.012},{"g":"Cupriavidus","s":9,"v":0.014},{"g":"Cupriavidus","s":10,"v":0.016},{"g":"Cupriavidus","s":11,"v":0.013},{"g":"Cupriavidus","s":12,"v":0.012},{"g":"Cupriavidus","s":13,"v":0.013},{"g":"Cupriavidus","s":14,"v":0.016},{"g":"Cupriavidus","s":15,"v":0.018},{"g":"Cupriavidus","s":16,"v":0.014},{"g":"Cupriavidus","s":17,"v":0.012},{"g":"Cupriavidus","s":18,"v":0.012},{"g":"Cupriavidus","s":19,"v":0.009},{"g":"Cupriavidus","s":20,"v":0.011},{"g":"Cupriavidus","s":21,"v":0.012},{"g":"Cupriavidus","s":22,"v":0.011},{"g":"Cupriavidus","s":23,"v":0.012},{"g":"Cupriavidus","s":24,"v":0.01},{"g":"Cupriavidus","s":25,"v":0.011},{"g":"Cupriavidus","s":26,"v":0.014},{"g":"Cupriavidus","s":27,"v":0.013},{"g":"Cupriavidus","s":28,"v":0.012},{"g":"Cupriavidus","s":29,"v":0.015},{"g":"Cupriavidus","s":30,"v":0.011},{"g":"Cupriavidus","s":31,"v":0.011},{"g":"Cupriavidus","s":32,"v":0.012},{"g":"Cupriavidus","s":33,"v":0.012},{"g":"Cupriavidus","s":34,"v":0.012},{"g":"Cupriavidus","s":35,"v":0.013},{"g":"Cupriavidus","s":36,"v":0.013},{"g":"Cupriavidus","s":37,"v":0.012},{"g":"Cupriavidus","s":38,"v":0.012},{"g":"Cupriavidus","s":39,"v":0.013},{"g":"Cupriavidus","s":40,"v":0.013},{"g":"Cupriavidus","s":41,"v":0.012},{"g":"Cupriavidus","s":42,"v":0.012},{"g":"Cupriavidus","s":43,"v":0.013},{"g":"Cupriavidus","s":44,"v":0.016},{"g":"Cupriavidus","s":45,"v":0.014},{"g":"Cupriavidus","s":46,"v":0.013},{"g":"Cupriavidus","s":47,"v":0.012},{"g":"Cupriavidus","s":48,"v":0.01},{"g":"Cupriavidus","s":49,"v":0.012},{"g":"Cupriavidus","s":50,"v":0.014},{"g":"Cupriavidus","s":51,"v":0.01},{"g":"Cupriavidus","s":52,"v":0.006},{"g":"Cupriavidus","s":53,"v":0.008},{"g":"Cupriavidus","s":54,"v":0.01},{"g":"Cupriavidus","s":55,"v":0.011},{"g":"Cupriavidus","s":56,"v":0.012},{"g":"Cupriavidus","s":57,"v":0.013},{"g":"Cupriavidus","s":58,"v":0.012},{"g":"Cupriavidus","s":59,"v":0.012},{"g":"Cupriavidus","s":60,"v":0.01},{"g":"Cupriavidus","s":61,"v":0.012},
{"g":"Bradyrhizobium","s":1,"v":0.2},{"g":"Bradyrhizobium","s":2,"v":0.225},{"g":"Bradyrhizobium","s":3,"v":0.235},{"g":"Bradyrhizobium","s":4,"v":0.225},{"g":"Bradyrhizobium","s":5,"v":0.23},{"g":"Bradyrhizobium","s":6,"v":0.225},{"g":"Bradyrhizobium","s":7,"v":0.27},{"g":"Bradyrhizobium","s":8,"v":0.24},{"g":"Bradyrhizobium","s":9,"v":0.225},{"g":"Bradyrhizobium","s":10,"v":0.24},{"g":"Bradyrhizobium","s":11,"v":0.205},{"g":"Bradyrhizobium","s":12,"v":0.18},{"g":"Bradyrhizobium","s":13,"v":0.15},{"g":"Bradyrhizobium","s":14,"v":0.19},{"g":"Bradyrhizobium","s":15,"v":0.19},{"g":"Bradyrhizobium","s":16,"v":0.165},{"g":"Bradyrhizobium","s":17,"v":0.17},{"g":"Bradyrhizobium","s":18,"v":0.06},{"g":"Bradyrhizobium","s":19,"v":0.12},{"g":"Bradyrhizobium","s":20,"v":0.115},{"g":"Bradyrhizobium","s":21,"v":0.14},{"g":"Bradyrhizobium","s":22,"v":0.14},{"g":"Bradyrhizobium","s":23,"v":0.16},{"g":"Bradyrhizobium","s":24,"v":0.16},{"g":"Bradyrhizobium","s":25,"v":0.165},{"g":"Bradyrhizobium","s":26,"v":0.165},{"g":"Bradyrhizobium","s":27,"v":0.125},{"g":"Bradyrhizobium","s":28,"v":0.19},{"g":"Bradyrhizobium","s":29,"v":0.2},{"g":"Bradyrhizobium","s":30,"v":0.21},{"g":"Bradyrhizobium","s":31,"v":0.21},{"g":"Bradyrhizobium","s":32,"v":0.215},{"g":"Bradyrhizobium","s":33,"v":0.215},{"g":"Bradyrhizobium","s":34,"v":0.215},{"g":"Bradyrhizobium","s":35,"v":0.215},{"g":"Bradyrhizobium","s":36,"v":0.215},{"g":"Bradyrhizobium","s":37,"v":0.21},{"g":"Bradyrhizobium","s":38,"v":0.23},{"g":"Bradyrhizobium","s":39,"v":0.215},{"g":"Bradyrhizobium","s":40,"v":0.24},{"g":"Bradyrhizobium","s":41,"v":0.255},{"g":"Bradyrhizobium","s":42,"v":0.225},{"g":"Bradyrhizobium","s":43,"v":0.225},{"g":"Bradyrhizobium","s":44,"v":0.25},{"g":"Bradyrhizobium","s":45,"v":0.23},{"g":"Bradyrhizobium","s":46,"v":0.225},{"g":"Bradyrhizobium","s":47,"v":0.24},{"g":"Bradyrhizobium","s":48,"v":0.27},{"g":"Bradyrhizobium","s":49,"v":0.225},{"g":"Bradyrhizobium","s":50,"v":0.245},{"g":"Bradyrhizobium","s":51,"v":0.19},{"g":"Bradyrhizobium","s":52,"v":0.06},{"g":"Bradyrhizobium","s":53,"v":0.095},{"g":"Bradyrhizobium","s":54,"v":0.17},{"g":"Bradyrhizobium","s":55,"v":0.165},{"g":"Bradyrhizobium","s":56,"v":0.2},{"g":"Bradyrhizobium","s":57,"v":0.2},{"g":"Bradyrhizobium","s":58,"v":0.195},{"g":"Bradyrhizobium","s":59,"v":0.21},{"g":"Bradyrhizobium","s":60,"v":0.21},{"g":"Bradyrhizobium","s":61,"v":0.21},
{"g":"Rhizobium","s":1,"v":0.018},{"g":"Rhizobium","s":2,"v":0.019},{"g":"Rhizobium","s":3,"v":0.017},{"g":"Rhizobium","s":4,"v":0.018},{"g":"Rhizobium","s":5,"v":0.017},{"g":"Rhizobium","s":6,"v":0.018},{"g":"Rhizobium","s":7,"v":0.018},{"g":"Rhizobium","s":8,"v":0.017},{"g":"Rhizobium","s":9,"v":0.016},{"g":"Rhizobium","s":10,"v":0.018},{"g":"Rhizobium","s":11,"v":0.019},{"g":"Rhizobium","s":12,"v":0.017},{"g":"Rhizobium","s":13,"v":0.018},{"g":"Rhizobium","s":14,"v":0.019},{"g":"Rhizobium","s":15,"v":0.019},{"g":"Rhizobium","s":16,"v":0.018},{"g":"Rhizobium","s":17,"v":0.017},{"g":"Rhizobium","s":18,"v":0.016},{"g":"Rhizobium","s":19,"v":0.017},{"g":"Rhizobium","s":20,"v":0.018},{"g":"Rhizobium","s":21,"v":0.019},{"g":"Rhizobium","s":22,"v":0.018},{"g":"Rhizobium","s":23,"v":0.02},{"g":"Rhizobium","s":24,"v":0.021},{"g":"Rhizobium","s":25,"v":0.017},{"g":"Rhizobium","s":26,"v":0.017},{"g":"Rhizobium","s":27,"v":0.018},{"g":"Rhizobium","s":28,"v":0.018},{"g":"Rhizobium","s":29,"v":0.019},{"g":"Rhizobium","s":30,"v":0.02},{"g":"Rhizobium","s":31,"v":0.02},{"g":"Rhizobium","s":32,"v":0.019},{"g":"Rhizobium","s":33,"v":0.02},{"g":"Rhizobium","s":34,"v":0.021},{"g":"Rhizobium","s":35,"v":0.021},{"g":"Rhizobium","s":36,"v":0.021},{"g":"Rhizobium","s":37,"v":0.023},{"g":"Rhizobium","s":38,"v":0.022},{"g":"Rhizobium","s":39,"v":0.022},{"g":"Rhizobium","s":40,"v":0.022},{"g":"Rhizobium","s":41,"v":0.018},{"g":"Rhizobium","s":42,"v":0.018},{"g":"Rhizobium","s":43,"v":0.018},{"g":"Rhizobium","s":44,"v":0.018},{"g":"Rhizobium","s":45,"v":0.018},{"g":"Rhizobium","s":46,"v":0.023},{"g":"Rhizobium","s":47,"v":0.023},{"g":"Rhizobium","s":48,"v":0.02},{"g":"Rhizobium","s":49,"v":0.02},{"g":"Rhizobium","s":50,"v":0.022},{"g":"Rhizobium","s":51,"v":0.019},{"g":"Rhizobium","s":52,"v":0.013},{"g":"Rhizobium","s":53,"v":0.016},{"g":"Rhizobium","s":54,"v":0.019},{"g":"Rhizobium","s":55,"v":0.018},{"g":"Rhizobium","s":56,"v":0.02},{"g":"Rhizobium","s":57,"v":0.024},{"g":"Rhizobium","s":58,"v":0.024},{"g":"Rhizobium","s":59,"v":0.022},{"g":"Rhizobium","s":60,"v":0.025},{"g":"Rhizobium","s":61,"v":0.024}
]},
"data":{"name":"cells"},
"spacing":7,
"vconcat":[
{"spacing":8,"hconcat":[
{"spacing":1,"vconcat":[
{"width":225,"height":29,"data":{"values":[{"status":"Detected"}]},"view":{"fill":"#D9D9D9","stroke":"#666666","strokeWidth":1.2},"mark":{"type":"text","fontSize":14.5,"color":"#262626"},"encoding":{"text":{"field":"status"}}},
{"width":225,"height":375,"view":{"stroke":"#666666","strokeWidth":1.2},"transform":[{"filter":"datum.s<=40"}],"mark":{"type":"rect","strokeWidth":0.6},"encoding":{
"x":{"field":"s","type":"ordinal","axis":null},
"y":{"field":"g","type":"nominal","scale":{"domain":["Bosea","Methylobacterium","Mesorhizobium","Burkholderia","Rhodoplanes","Variovorax","Sphingomonas","Pseudomonas","Nocardioides","Microbacterium","Micromonospora","Rhodococcus","Streptomyces","Nocardia","Amycolatopsis","Actinomadura","Paraburkholderia","Mycolicibacterium","Mycobacterium","Rhodopseudomonas","Cupriavidus","Bradyrhizobium","Rhizobium"]},"axis":{"title":"Genus","titleFontSize":18,"titleFontWeight":"normal","titleColor":"#000000","titlePadding":6,"labelFontSize":14.9,"labelFontStyle":"italic","labelColor":"#4D4D4D","tickColor":"#333333","tickWidth":1.3,"tickSize":5,"labelPadding":3,"domain":false,"labelOverlap":false}},
"color":{"field":"v","type":"quantitative","scale":{"scheme":"viridis","domain":[0.001,0.27]},"legend":{"orient":"none","legendX":488,"legendY":175,"title":"Relative Abundance","titleFontSize":18.3,"titleFontWeight":"normal","titleColor":"#000000","labelFontSize":14,"labelColor":"#000000","labelOffset":10,"values":[0.05,0.1,0.15,0.2,0.25],"format":".2f","gradientLength":64,"gradientThickness":13,"labelOverlap":false,"titlePadding":6}},
"stroke":{"field":"v","type":"quantitative","scale":{"scheme":"viridis","domain":[0.0011,0.27]},"legend":null}}}
]},
{"spacing":1,"vconcat":[
{"width":225,"height":29,"data":{"values":[{"status":"Not detected"}]},"view":{"fill":"#D9D9D9","stroke":"#666666","strokeWidth":1.2},"mark":{"type":"text","fontSize":14.5,"color":"#262626"},"encoding":{"text":{"field":"status"}}},
{"width":225,"height":375,"view":{"stroke":"#666666","strokeWidth":1.2},"transform":[{"filter":"datum.s>40"}],"mark":{"type":"rect","strokeWidth":0.6},"encoding":{
"x":{"field":"s","type":"ordinal","axis":null},
"y":{"field":"g","type":"nominal","scale":{"domain":["Bosea","Methylobacterium","Mesorhizobium","Burkholderia","Rhodoplanes","Variovorax","Sphingomonas","Pseudomonas","Nocardioides","Microbacterium","Micromonospora","Rhodococcus","Streptomyces","Nocardia","Amycolatopsis","Actinomadura","Paraburkholderia","Mycolicibacterium","Mycobacterium","Rhodopseudomonas","Cupriavidus","Bradyrhizobium","Rhizobium"]},"axis":null},
"color":{"field":"v","type":"quantitative","scale":{"scheme":"viridis","domain":[0.001,0.27]},"legend":null},
"stroke":{"field":"v","type":"quantitative","scale":{"scheme":"viridis","domain":[0.0011,0.27]},"legend":null}}}
]}
]},
{"width":460,"height":20,"view":{"stroke":null},"data":{"values":[{"axis":"Sample"}]},"mark":{"type":"text","fontSize":18,"color":"#000000"},"encoding":{"text":{"field":"axis"}}}
]}
